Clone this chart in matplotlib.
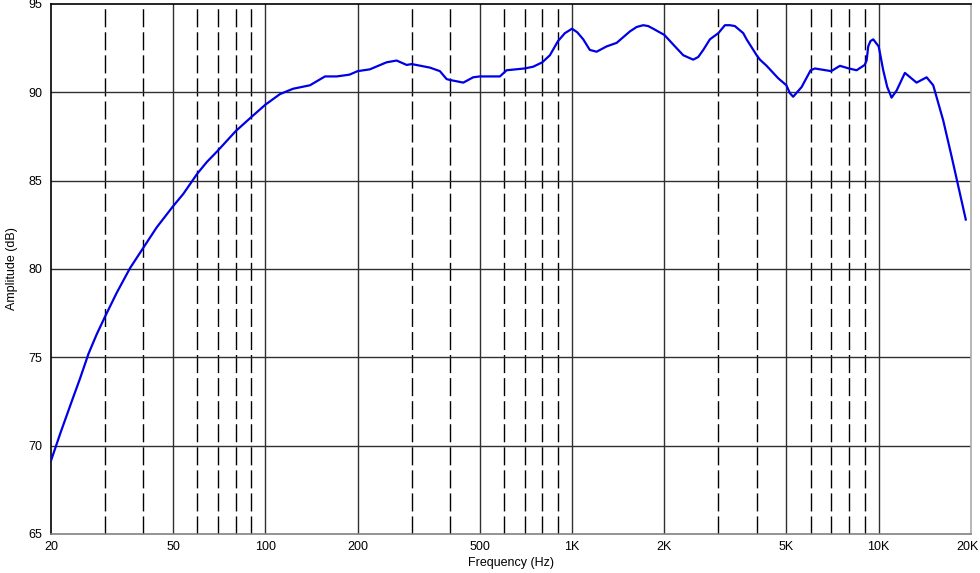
import matplotlib
matplotlib.use('Agg')
import matplotlib.pyplot as plt
from matplotlib.ticker import FixedLocator, FixedFormatter, NullLocator
from matplotlib.transforms import ScaledTranslation

# frequency response
freq_hz = [20, 21.5, 23.64, 24.87, 26.5, 28.18, 30, 32.75, 36.2, 40, 44.2,
           50, 54, 60, 64.4, 70, 80, 90, 100, 111.6, 123, 139.8,
           156.5, 170.9, 188, 200, 219, 248.6, 268, 289, 300, 344, 370.8, 390,
           400, 442, 476, 500, 582, 612, 700, 747, 800, 847, 900, 948, 1000,
           1040, 1088, 1143, 1203, 1297, 1398, 1545, 1625, 1707, 1772, 1840,
           2000, 2193, 2305, 2484, 2580, 2679, 2816,
           3000, 3152, 3272, 3397, 3617, 3709, 4000, 4100, 4312, 4700, 5000,
           5135, 5262, 5607, 6000, 6196,
           7000, 7476, 8000, 8473, 9000, 9133, 9245, 9400, 9600, 10000, 10347,
           10664, 11015, 11440, 12175, 13290, 14330, 15060, 16240, 17300, 19230]
amp_db = [69.15, 70.75, 72.75, 73.8, 75.2, 76.3, 77.3, 78.65, 80.05, 81.2,
          82.35, 83.55, 84.25, 85.4, 86.05, 86.7, 87.8, 88.6, 89.3,
          89.9, 90.2, 90.4, 90.9, 90.9, 91.0, 91.2, 91.3, 91.7, 91.8, 91.55,
          91.6, 91.4, 91.2, 90.75, 90.7, 90.55, 90.85, 90.9, 90.9, 91.25,
          91.35, 91.45, 91.7, 92.1, 92.9, 93.35, 93.6, 93.4, 93.0, 92.4, 92.3,
          92.6, 92.8, 93.45, 93.7, 93.8, 93.75, 93.6, 93.25, 92.5, 92.1, 91.85,
          92.0, 92.4, 93.0, 93.35, 93.8, 93.8, 93.75, 93.35, 93.0, 92.1, 91.85,
          91.5, 90.8, 90.4, 89.95, 89.75, 90.3, 91.25, 91.35, 91.2, 91.5, 91.35,
          91.25, 91.55, 91.8, 92.6, 92.9, 93.0, 92.6, 91.25, 90.3, 89.7, 90.1,
          91.1, 90.55, 90.85, 90.4, 88.4, 86.35, 82.8]

x_ticks = [20, 50, 100, 200, 500, 1000, 2000, 5000, 10000, 20000]
x_labels = ['20', '50', '100', '200', '500', '1K', '2K', '5K', '10K', '20K']
dashed_lines = [30, 40, 60, 70, 80, 90, 300, 400, 600, 700, 800, 900,
                3000, 4000, 6000, 7000, 8000, 9000]
y_ticks = [65, 70, 75, 80, 85, 90, 95]

plt.rcParams['font.family'] = ['Liberation Sans', 'DejaVu Sans']

fig = plt.figure(figsize=(9.8, 5.73), dpi=100)
fig.patch.set_facecolor('white')
ax = fig.add_axes([51 / 980, 39 / 573, 920 / 980, 530 / 573])

ax.set_xscale('log')
ax.set_xlim(20, 20000)
ax.set_ylim(65, 95)

# grid
for f in x_ticks[1:-1]:
    ax.axvline(f, color='#303030', lw=1.0, zorder=1)
for f in dashed_lines:
    ax.axvline(f, color='black', lw=1.0, dashes=(13, 3.6), zorder=1)
for v in y_ticks[1:-1]:
    ax.axhline(v, color='#303030', lw=1.0, zorder=1)

ax.plot(freq_hz, amp_db, color='#0000e6', lw=1.6, zorder=3,
        solid_joinstyle='round')

ax.xaxis.set_major_locator(FixedLocator(x_ticks))
ax.xaxis.set_major_formatter(FixedFormatter(x_labels))
ax.xaxis.set_minor_locator(NullLocator())
ax.set_yticks(y_ticks)
ax.tick_params(axis='both', length=0, labelsize=9, colors='black')
ax.tick_params(axis='x', pad=5)
ax.tick_params(axis='y', pad=6)

# keep "20K" inside the picture
last = ax.get_xticklabels()[-1]
last.set_transform(last.get_transform()
                   + ScaledTranslation(-4 / 100, 0, fig.dpi_scale_trans))

for side in ['left', 'top']:
    ax.spines[side].set_color('black')
    ax.spines[side].set_linewidth(1.2)
ax.spines['bottom'].set_color('#808080')
ax.spines['bottom'].set_linewidth(1.2)
ax.spines['right'].set_color('#aaaaaa')
ax.spines['right'].set_linewidth(1.2)

ax.set_xlabel('Frequency (Hz)', fontsize=9, labelpad=3)
ax.set_ylabel('Amplitude (dB)', fontsize=9, labelpad=8)

fig.savefig('out.png', dpi=100)
